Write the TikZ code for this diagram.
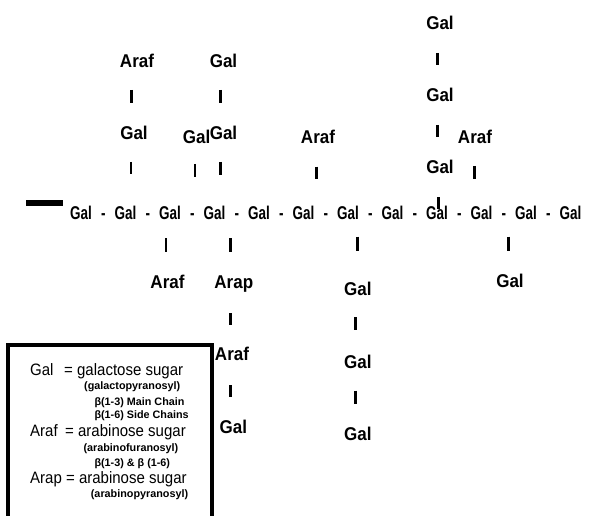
\documentclass[tikz,border=0pt]{standalone}
\usepackage{fontspec}
\setmainfont{Liberation Sans}
\newfontfamily\labfont{Liberation Sans}[FakeStretch=0.92]
\newfontfamily\chainfont{Liberation Sans}[FakeStretch=0.73]
\newfontfamily\legfont{Liberation Sans}[FakeStretch=0.91]
\begin{document}
\begin{tikzpicture}[x=1pt,y=-1pt,
  lab/.style={anchor=base,inner sep=0pt,font=\labfont\fontsize{18.5}{22}\selectfont\bfseries},
  chain/.style={anchor=base,inner sep=0pt,font=\chainfont\fontsize{18.5}{22}\selectfont\bfseries},
  bar/.style={line width=2.8pt},
  leg/.style={anchor=base west,inner sep=0pt,font=\legfont\fontsize{16.5}{19}\selectfont},
  legsub/.style={anchor=base west,inner sep=0pt,font=\fontsize{10.8}{13}\selectfont\bfseries},
  legbox/.style={line width=4pt}]
\useasboundingbox (0,0) rectangle (589,516);

% main chain
\foreach \i in {1,...,12} \node[chain] (m\i) at ({81+44.5*(\i-1)},219) {Gal};
\foreach \i in {1,...,11} \node[chain] (h\i) at ({103.25+44.5*(\i-1)},219) {-};
\fill (26,199.5) rectangle (62.5,206);

% upper side chains
\node[lab] (ta1) at (137,68) {Araf};
\node[lab] (tg1) at (223.5,68) {Gal};
\node[lab] (tg2) at (134,140) {Gal};
\node[lab] (tg3) at (196.7,143) {Gal};
\node[lab] (tg4) at (223.5,140) {Gal};
\node[lab] (ta2) at (318,143) {Araf};
\node[lab] (rg1) at (440,29.3) {Gal};
\node[lab] (rg2) at (440,101.7) {Gal};
\node[lab] (rg3) at (440,173.3) {Gal};
\node[lab] (ta3) at (475,143) {Araf};

% lower side chains
\node[lab] (ba1) at (167.5,288.3) {Araf};
\node[lab] (bp)  at (233.8,288) {Arap};
\node[lab] (ba2) at (232,360.7) {Araf};
\node[lab] (bg1) at (233.3,433.3) {Gal};
\node[lab] (cg1) at (357.8,295.5) {Gal};
\node[lab] (cg2) at (357.8,368.3) {Gal};
\node[lab] (cg3) at (357.8,440) {Gal};
\node[lab] (dg)  at (510,287.3) {Gal};

% bars
\draw[bar] ([shift={(-5.3,22)}]ta1.base) -- ++(0,13);
\draw[bar] ([shift={(-2.8,22)}]tg1.base) -- ++(0,13);
\draw[bar] ([shift={(-3,22)}]tg2.base) -- ++(0,12);
\draw[bar] ([shift={(-1.7,21)}]tg3.base) -- ++(0,13);
\draw[bar] ([shift={(-3,22)}]tg4.base) -- ++(0,13);
\draw[bar] ([shift={(-1.3,23.7)}]ta2.base) -- ++(0,12.5);
\draw[bar] ([shift={(-2.3,23.7)}]rg1.base) -- ++(0,12);
\draw[bar] ([shift={(-2.3,23.3)}]rg2.base) -- ++(0,12);
\draw[bar] ([shift={(-1.7,23.7)}]rg3.base) -- ++(0,12);
\draw[bar] ([shift={(-0.7,23)}]ta3.base) -- ++(0,13);
\draw[bar] ([shift={(-4,19.3)}]m3.base) -- ++(0,13.4);
\draw[bar] ([shift={(16.2,19.3)}]m4.base) -- ++(0,13.4);
\draw[bar] ([shift={(9.7,17.7)}]m7.base) -- ++(0,14);
\draw[bar] ([shift={(-17.7,17.7)}]m11.base) -- ++(0,14);
\draw[bar] ([shift={(-3.1,25.3)}]bp.base) -- ++(0,11.5);
\draw[bar] ([shift={(-1.3,24.3)}]ba2.base) -- ++(0,12);
\draw[bar] ([shift={(-2.1,21.8)}]cg1.base) -- ++(0,13);
\draw[bar] ([shift={(-2.1,22.4)}]cg2.base) -- ++(0,13);

% legend
\draw[legbox] (8,530) -- (8,345) -- (212,345) -- (212,530);
\node[leg] (l1) at (30,375) {\makebox[34pt][l]{Gal}= galactose sugar};
\node[legsub] (l2) at (84,389.5) {(galactopyranosyl)};
\node[legsub] (l3) at (94.3,405) {β(1-3) Main Chain};
\node[legsub] (l4) at (94.3,418.4) {β(1-6) Side Chains};
\node[leg] (l5) at (30,436) {\makebox[35pt][l]{Araf}= arabinose sugar};
\node[legsub] (l6) at (83.3,451) {(arabinofuranosyl)};
\node[legsub] (l7) at (94.3,466) {β(1-3) \& β (1-6)};
\node[leg] (l8) at (30,483.3) {Arap = arabinose sugar};
\node[legsub] (l9) at (90.7,497.7) {(arabinopyranosyl)};
\end{tikzpicture}
\end{document}
